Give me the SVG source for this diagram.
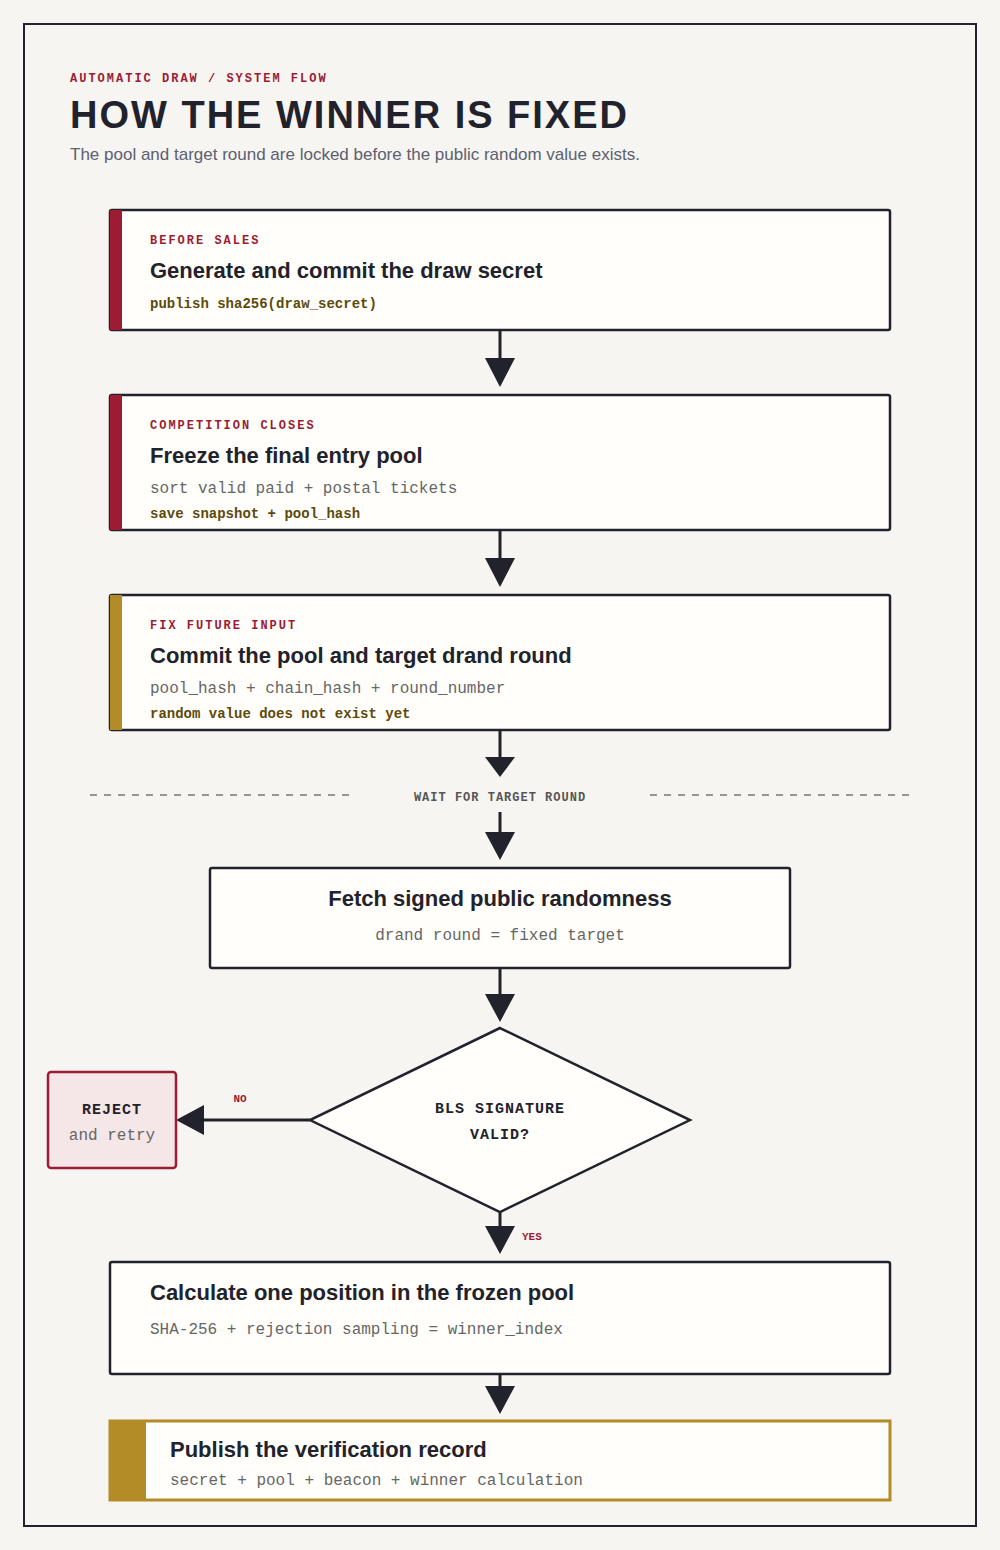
<svg xmlns="http://www.w3.org/2000/svg" width="1000" height="1550" viewBox="0 0 1000 1550">
<style>
.box{fill:#fffefa;stroke:#22222c;stroke-width:2.5}
.kick{font-family:"Liberation Mono",monospace;font-size:12px;font-weight:bold;fill:#9b1c33;letter-spacing:2px}
.title{font-family:"Liberation Sans",Arial,sans-serif;font-size:22px;font-weight:bold;fill:#22222c}
.mono{font-family:"Liberation Mono",monospace;font-size:16px;fill:#666}
.monob{font-family:"Liberation Mono",monospace;font-size:14px;font-weight:bold;fill:#5c4a0c}
.line{stroke:#22222c;stroke-width:3;fill:none}
.head{fill:#22222c}
</style>
<rect width="1000" height="1550" fill="#f6f5f1"/>
<rect x="24" y="24" width="952" height="1502" fill="#f6f5f1" stroke="#22222c" stroke-width="2"/>
<g id="header">
<text x="70" y="82" class="kick">AUTOMATIC DRAW / SYSTEM FLOW</text>
<text x="70" y="128" font-family="Liberation Sans,Arial,sans-serif" font-size="38" font-weight="bold" fill="#22222c" letter-spacing="2">HOW THE WINNER IS FIXED</text>
<text x="70" y="160" font-family="Liberation Sans,Arial,sans-serif" font-size="17" fill="#5c6070">The pool and target round are locked before the public random value exists.</text>
</g>
<g id="connectors">
<line x1="500" y1="330" x2="500" y2="360" class="line"/><polygon points="485,358 515,358 500,387" class="head"/>
<line x1="500" y1="530" x2="500" y2="560" class="line"/><polygon points="485,558 515,558 500,587" class="head"/>
<line x1="500" y1="730" x2="500" y2="760" class="line"/><polygon points="485,757 515,757 500,777" class="head"/>
<line x1="90" y1="795" x2="350" y2="795" stroke="#777" stroke-width="1.5" stroke-dasharray="7,7"/>
<line x1="650" y1="795" x2="910" y2="795" stroke="#777" stroke-width="1.5" stroke-dasharray="7,7"/>
<text x="500" y="801" text-anchor="middle" font-family="Liberation Mono,monospace" font-size="12" font-weight="bold" fill="#555" letter-spacing="1">WAIT FOR TARGET ROUND</text>
<line x1="500" y1="812" x2="500" y2="835" class="line"/><polygon points="485,832 515,832 500,860" class="head"/>
<line x1="500" y1="968" x2="500" y2="996" class="line"/><polygon points="485,994 515,994 500,1022" class="head"/>
<line x1="310" y1="1120" x2="200" y2="1120" class="line"/><polygon points="204,1105 204,1135 176,1120" class="head"/>
<text x="240" y="1102" text-anchor="middle" font-family="Liberation Mono,monospace" font-size="11" font-weight="bold" fill="#9b1c33">NO</text>
<line x1="500" y1="1212" x2="500" y2="1228" class="line"/><polygon points="485,1226 515,1226 500,1254" class="head"/>
<text x="522" y="1240" font-family="Liberation Mono,monospace" font-size="11" font-weight="bold" fill="#9b1c33">YES</text>
<line x1="500" y1="1374" x2="500" y2="1388" class="line"/><polygon points="485,1386 515,1386 500,1414" class="head"/>
</g>
<g id="n1">
<rect x="110" y="210" width="780" height="120" rx="2" class="box"/>
<rect x="110" y="210" width="12" height="120" fill="#9b1c33"/>
<text x="150" y="244" class="kick">BEFORE SALES</text>
<text x="150" y="278" class="title">Generate and commit the draw secret</text>
<text x="150" y="308" class="monob">publish sha256(draw_secret)</text>
</g>
<g id="n2">
<rect x="110" y="395" width="780" height="135" rx="2" class="box"/>
<rect x="110" y="395" width="12" height="135" fill="#9b1c33"/>
<text x="150" y="429" class="kick">COMPETITION CLOSES</text>
<text x="150" y="463" class="title">Freeze the final entry pool</text>
<text x="150" y="493" class="mono">sort valid paid + postal tickets</text>
<text x="150" y="518" class="monob">save snapshot + pool_hash</text>
</g>
<g id="n3">
<rect x="110" y="595" width="780" height="135" rx="2" class="box"/>
<rect x="110" y="595" width="12" height="135" fill="#b38b27"/>
<text x="150" y="629" class="kick">FIX FUTURE INPUT</text>
<text x="150" y="663" class="title">Commit the pool and target drand round</text>
<text x="150" y="693" class="mono">pool_hash + chain_hash + round_number</text>
<text x="150" y="718" class="monob">random value does not exist yet</text>
</g>
<g id="n4">
<rect x="210" y="868" width="580" height="100" rx="2" class="box"/>
<text x="500" y="906" text-anchor="middle" class="title">Fetch signed public randomness</text>
<text x="500" y="940" text-anchor="middle" class="mono">drand round = fixed target</text>
</g>
<g id="n5">
<polygon points="500,1028 690,1120 500,1212 310,1120" class="box"/>
<text x="500" y="1113" text-anchor="middle" font-family="Liberation Mono,monospace" font-size="15" font-weight="bold" fill="#22222c" letter-spacing="1">BLS SIGNATURE</text>
<text x="500" y="1139" text-anchor="middle" font-family="Liberation Mono,monospace" font-size="15" font-weight="bold" fill="#22222c" letter-spacing="1">VALID?</text>
</g>
<g id="n6">
<rect x="48" y="1072" width="128" height="96" rx="3" fill="#f5e6e8" stroke="#9b1c33" stroke-width="2.5"/>
<text x="112" y="1114" text-anchor="middle" font-family="Liberation Mono,monospace" font-size="15" font-weight="bold" fill="#22222c" letter-spacing="1">REJECT</text>
<text x="112" y="1140" text-anchor="middle" class="mono">and retry</text>
</g>
<g id="n7">
<rect x="110" y="1262" width="780" height="112" rx="2" class="box"/>
<text x="150" y="1300" class="title">Calculate one position in the frozen pool</text>
<text x="150" y="1334" class="mono">SHA-256 + rejection sampling = winner_index</text>
</g>
<g id="n8">
<rect x="110" y="1421" width="780" height="79" fill="#fffefa" stroke="#b38b27" stroke-width="3"/>
<rect x="110" y="1421" width="36" height="79" fill="#b38b27"/>
<text x="170" y="1457" class="title">Publish the verification record</text>
<text x="170" y="1485" class="mono">secret + pool + beacon + winner calculation</text>
</g>
</svg>
